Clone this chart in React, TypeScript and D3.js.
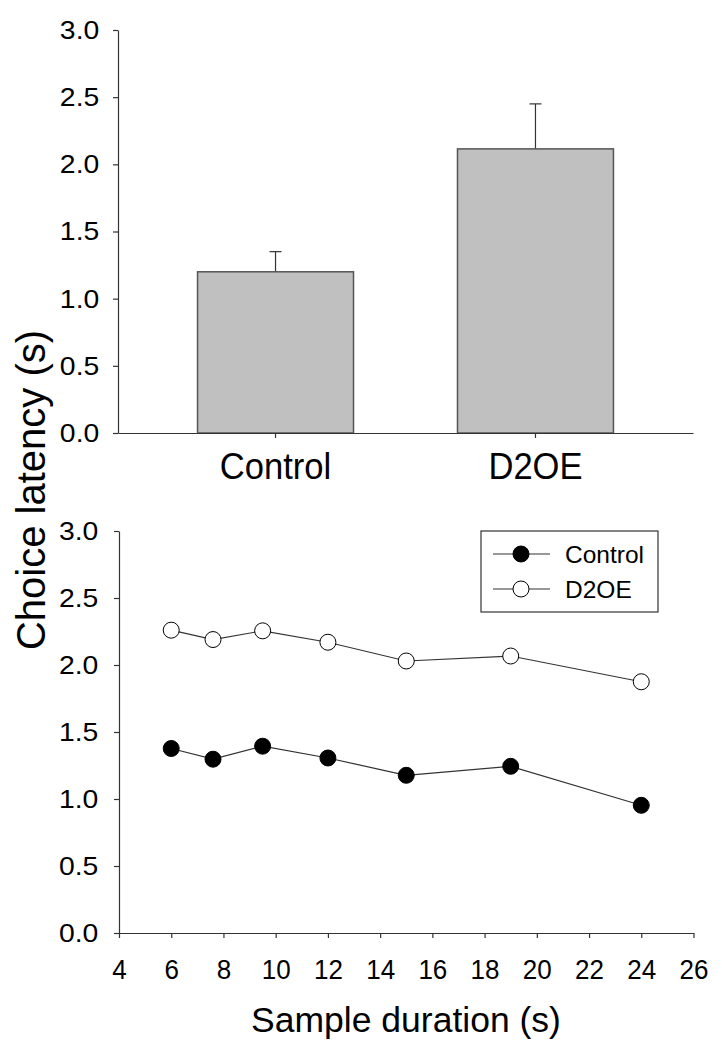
import * as d3 from "d3";
import { useEffect, useRef } from "react";

// top panel: mean choice latency per group
const groups = ["Control", "D2OE"];
const groupMeans = [1.2, 2.115];
const groupErrors = [0.15, 0.335];

// bottom panel: latency by sample duration
const durations = [6, 7.6, 9.5, 12, 15, 19, 24];
const controlLatency = [1.377, 1.297, 1.394, 1.306, 1.177, 1.244, 0.953];
const d2oeLatency = [2.26, 2.19, 2.255, 2.17, 2.03, 2.067, 1.875];

const yTicks = [0, 0.5, 1, 1.5, 2, 2.5, 3];
const xTicks = [4, 6, 8, 10, 12, 14, 16, 18, 20, 22, 24, 26];

const FONT = "Liberation Sans, Arial, sans-serif";
const AXIS = "#333";

export default function App() {
    const ref = useRef<SVGSVGElement | null>(null);

    useEffect(() => {
        if (!ref.current) return;
        const svg = d3.select(ref.current);
        svg.selectAll("*").remove();

        // ---------- top bar chart ----------
        const yTop = d3.scaleLinear().domain([0, 3]).range([433, 30]);
        const xTop = d3.scaleBand()
            .domain(groups)
            .range([118, 693])
            .paddingInner(0.4)
            .paddingOuter(0.306);

        const bars = svg.append("g");
        groups.forEach((g, i) => {
            const x0 = xTop(g)!;
            const cx = x0 + xTop.bandwidth() / 2;
            const top = groupMeans[i] + groupErrors[i];
            // error bar (upper only)
            bars.append("line")
                .attr("x1", cx).attr("x2", cx)
                .attr("y1", yTop(groupMeans[i])).attr("y2", yTop(top))
                .attr("stroke", AXIS).attr("stroke-width", 1.2);
            bars.append("line")
                .attr("x1", cx - 6).attr("x2", cx + 6)
                .attr("y1", yTop(top)).attr("y2", yTop(top))
                .attr("stroke", AXIS).attr("stroke-width", 1.2);
            bars.append("rect")
                .attr("x", x0)
                .attr("y", yTop(groupMeans[i]))
                .attr("width", xTop.bandwidth())
                .attr("height", yTop(0) - yTop(groupMeans[i]))
                .attr("fill", "#c0c0c0")
                .attr("stroke", "#555")
                .attr("stroke-width", 1.5);
        });

        const topY = svg.append("g")
            .attr("transform", `translate(118,0)`)
            .call(d3.axisLeft(yTop).tickValues(yTicks).tickFormat(d3.format(".1f")).tickSize(5).tickSizeOuter(0).tickPadding(12.5));

        const topX = svg.append("g")
            .attr("transform", `translate(0,433)`)
            .call(d3.axisBottom(xTop).tickSize(5).tickSizeOuter(0).tickPadding(15));

        // ---------- bottom line chart ----------
        const yBot = d3.scaleLinear().domain([0, 3]).range([933, 531]);
        const xBot = d3.scaleLinear().domain([4, 26]).range([119, 693.5]);

        const botY = svg.append("g")
            .attr("transform", `translate(119,0)`)
            .call(d3.axisLeft(yBot).tickValues(yTicks).tickFormat(d3.format(".1f")).tickSize(5).tickSizeOuter(0).tickPadding(14.3));

        const botX = svg.append("g")
            .attr("transform", `translate(0,933)`)
            .call(d3.axisBottom(xBot).tickValues(xTicks).tickFormat(d3.format("d")).tickSize(5).tickSizeOuter(0).tickPadding(21));

        svg.selectAll(".domain, .tick line").attr("stroke", AXIS).attr("stroke-width", 1.2);
        svg.selectAll(".tick text").attr("font-family", FONT).attr("fill", "#000");
        topY.selectAll("text").attr("font-size", 26.5).attr("transform", "scale(1.07,1)");
        botY.selectAll("text").attr("font-size", 26.5).attr("transform", "scale(1.07,1)");
        topX.selectAll("text").attr("font-size", 36).attr("transform", "scale(0.96,1)");
        botX.selectAll("text").attr("font-size", 28).attr("transform", "scale(0.93,1)");

        const line = d3.line<number>()
            .x((_, i) => xBot(durations[i]))
            .y((d) => yBot(d));

        const series = [
            { values: d2oeLatency, fill: "#fff" },
            { values: controlLatency, fill: "#000" },
        ];
        series.forEach((s) => {
            svg.append("path")
                .attr("d", line(s.values)!)
                .attr("fill", "none")
                .attr("stroke", AXIS)
                .attr("stroke-width", 1.2);
            svg.append("g")
                .selectAll("circle")
                .data(s.values)
                .join("circle")
                .attr("cx", (_, i) => xBot(durations[i]))
                .attr("cy", (d) => yBot(d))
                .attr("r", 8)
                .attr("fill", s.fill)
                .attr("stroke", "#000")
                .attr("stroke-width", 1);
        });

        // legend
        const lg = svg.append("g");
        lg.append("rect")
            .attr("x", 481).attr("y", 531).attr("width", 177).attr("height", 81)
            .attr("fill", "#fff").attr("stroke", AXIS).attr("stroke-width", 1.2);
        [
            { label: "Control", fill: "#000", y: 554 },
            { label: "D2OE", fill: "#fff", y: 589 },
        ].forEach((it) => {
            lg.append("line").attr("x1", 493).attr("x2", 550).attr("y1", it.y).attr("y2", it.y)
                .attr("stroke", AXIS).attr("stroke-width", 1.2);
            lg.append("circle").attr("cx", 521).attr("cy", it.y).attr("r", 8)
                .attr("fill", it.fill).attr("stroke", "#000");
            lg.append("text").attr("x", 565).attr("y", it.y + 8.5)
                .attr("font-family", FONT).attr("font-size", 24.5).text(it.label);
        });

        // axis titles
        svg.append("text")
            .attr("transform", "translate(45,490) rotate(-90)")
            .attr("text-anchor", "middle")
            .attr("font-family", FONT).attr("font-size", 40)
            .text("Choice latency (s)");
        svg.append("text")
            .attr("x", 406).attr("y", 1032)
            .attr("text-anchor", "middle")
            .attr("font-family", FONT).attr("font-size", 35.5)
            .text("Sample duration (s)");
    }, []);

    return (
        <div style={{ position: "absolute", left: 0, top: 0, background: "#fff" }}>
            <svg ref={ref} width={722} height={1050} style={{ display: "block" }}></svg>
        </div>
    );
}
